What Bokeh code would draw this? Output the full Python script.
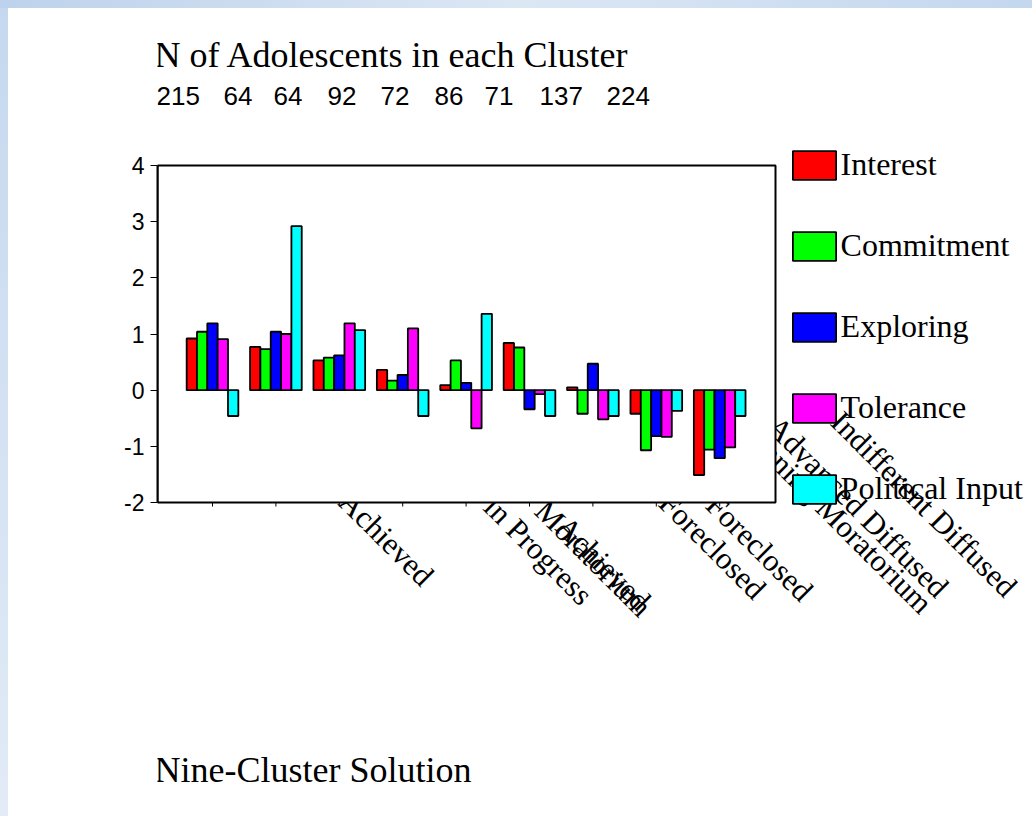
import math
from bokeh.plotting import figure
from bokeh.models import ColumnDataSource, Range1d, FixedTicker, Label, Legend, LegendItem
from bokeh.transform import dodge
from bokeh.embed import file_html
from bokeh.resources import INLINE

# ---------------- data ----------------
cluster_index = [0, 1, 2, 3, 4, 5, 6, 7, 8]
counts = [215, 64, 64, 92, 72, 86, 71, 137, 224]
series = ["Interest", "Commitment", "Exploring", "Tolerance", "Political Input"]
interest = [0.92, 0.77, 0.53, 0.36, 0.09, 0.84, 0.05, -0.42, -1.51]
commitment = [1.04, 0.73, 0.58, 0.17, 0.53, 0.76, -0.42, -1.07, -1.06]
exploring = [1.19, 1.04, 0.62, 0.27, 0.13, -0.34, 0.47, -0.82, -1.21]
tolerance = [0.91, 1.00, 1.19, 1.10, -0.68, -0.07, -0.52, -0.83, -1.02]
political = [-0.46, 2.92, 1.07, -0.46, 1.36, -0.46, -0.46, -0.37, -0.46]
cluster_labels = ["Achieved", "in Progress", "Moratorium", "Achieved", "Foreclosed",
                  "Foreclosed", "Advanced Diffused", "Beginning Moratorium",
                  "Indifferent Diffused"]
y_ticks = [-2, -1, 0, 1, 2, 3, 4]
title_text = "N of Adolescents in each Cluster"
footer_text = "Nine-Cluster Solution"

# ---------------- layout (page pixels) ----------------
FR_L, FR_R, FR_T, FR_B = 157, 775, 165, 502      # plot-area box on the page
C0, PITCH = 212.0, 63.4                          # first cluster centre, cluster pitch
YPU = (FR_B - FR_T) / 6.0
BW = 0.163
W, H = 1024, 808                                 # canvas, placed at page (8, 8)

def X(px):
    return (px - C0) / PITCH

def Y(py):
    return 4 - (py - FR_T) / YPU

count_x = [156, 223, 273, 327, 380, 434, 484, 539, 606]
label_pos = [(344, 496), (489, 501), (540, 505), (561, 521), (664, 497),
             (711, 499), (772, 421), (724, 405), (836, 416)]

p = figure(width=W, height=H, margin=(8, 0, 0, 8),
           x_range=Range1d(X(FR_L), X(8 + W)), y_range=Range1d(Y(8 + H), Y(8)),
           x_axis_location=None, output_backend="svg", toolbar_location=None,
           min_border_left=FR_L - 8, min_border_right=0, min_border_top=0,
           min_border_bottom=0)
p.background_fill_color = "white"
p.border_fill_color = "white"
p.grid.visible = False
p.outline_line_color = None

try:
    from bokeh.models import GlobalInlineStyleSheet
    p.stylesheets = [GlobalInlineStyleSheet(css=(
        "html{background:"
        "linear-gradient(to right,#bdd2ec,#dce7f4 50%,#c3d7ef) top left/100% 8px no-repeat,"
        "linear-gradient(to bottom,#c5d8ef,#e2ebf6) top left/8px 100% no-repeat,"
        "#ffffff;}"
        "body{background:transparent;}"))]
except Exception:
    pass

# y axis (real axis, limited to the plot box)
ya = p.yaxis[0]
ya.bounds = (-2, 4)
ya.ticker = FixedTicker(ticks=y_ticks)
ya.major_label_overrides = {t: str(t) for t in y_ticks}
ya.major_tick_out = 7
ya.major_tick_in = 0
ya.minor_tick_line_color = None
ya.axis_line_color = "black"
ya.axis_line_width = 2
ya.major_tick_line_color = "black"
ya.major_tick_line_width = 1
ya.major_label_standoff = 6
ya.major_label_text_font = "Liberation Sans"
ya.major_label_text_font_size = "23px"
ya.major_label_text_color = "black"

XS, XE = X(FR_L), X(FR_R)

# category labels (drawn first, the plot box covers the parts inside it)
for txt, (px, py) in zip(cluster_labels, label_pos):
    p.add_layout(Label(x=X(px), y=Y(py), text=txt, angle=-math.pi / 4,
                       text_align="left", text_baseline="middle",
                       text_font="Liberation Serif", text_font_size="31px",
                       text_color="black", level="image"))

# plot-box fill that hides label parts inside the box
p.quad(left=XS, right=XE, bottom=-2, top=4, fill_color="white", line_color=None,
       level="underlay")

src = ColumnDataSource(dict(x=cluster_index, interest=interest, commitment=commitment,
                            exploring=exploring, tolerance=tolerance, political=political))
cols = ["interest", "commitment", "exploring", "tolerance", "political"]
colors = ["#FF0000", "#00FF00", "#0000FF", "#FF00FF", "#00FFFF"]
rends = []
for j, (col, c) in enumerate(zip(cols, colors)):
    r = p.vbar(x=dodge("x", (j - 2) * BW), top=col, bottom=0, width=BW, source=src,
               fill_color=c, line_color="black", line_width=1.8)
    rends.append(r)

# x ticks below the box
tick_len = 4 / YPU
p.segment(x0=cluster_index, y0=[-2] * 9, x1=cluster_index, y1=[-2 - tick_len] * 9,
          line_color="black", line_width=1)
# plot-box border
p.quad(left=XS, right=XE, bottom=-2, top=4, fill_color=None, line_color="black",
       line_width=2)

legend = Legend(items=[LegendItem(label=s, renderers=[r]) for s, r in zip(series, rends)],
                location=(786.6 - FR_L, (8 + H) - 507.4), orientation="vertical",
                glyph_width=54, glyph_height=36, label_standoff=-4, spacing=44,
                padding=0, margin=0, border_line_color=None, background_fill_alpha=0,
                label_text_font="Liberation Serif", label_text_font_size="32px",
                label_height=30, label_text_color="black")
p.add_layout(legend)

# texts
p.add_layout(Label(x=X(154), y=Y(54), text=title_text, text_font="Liberation Serif",
                   text_font_size="36px", text_baseline="alphabetic", text_color="black"))
for n, px in zip(counts, count_x):
    p.add_layout(Label(x=X(px), y=Y(95), text=str(n), text_font="Liberation Sans",
                       text_font_size="26px", text_baseline="alphabetic", text_color="black"))
p.add_layout(Label(x=X(154), y=Y(769), text=footer_text, text_font="Liberation Serif",
                   text_font_size="36px", text_baseline="alphabetic", text_color="black"))

open("out.html", "w").write(file_html(p, INLINE))
